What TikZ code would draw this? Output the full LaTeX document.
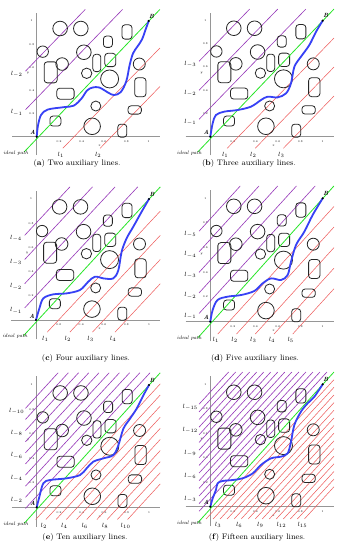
\documentclass[tikz,border=0pt]{standalone}
\definecolor{auxred}{RGB}{238,88,88}
\definecolor{auxpurple}{RGB}{150,55,185}
\definecolor{idealgreen}{RGB}{40,230,40}
\definecolor{pathblue}{RGB}{55,65,245}
\definecolor{axisgray}{RGB}{150,150,150}
\tikzset{
  obst/.style={draw=black!85, line width=0.8pt},
  axisline/.style={draw=axisgray},
  redline/.style={draw=auxred, line width=0.5pt},
  purpline/.style={draw=auxpurple, line width=0.6pt},
  ideal/.style={draw=idealgreen, line width=0.8pt},
  robot/.style={draw=pathblue, line width=1.8pt, line cap=round, line join=round},
  ticklab/.style={font=\fontsize{2.8}{3}\selectfont, inner sep=0},
  axlab/.style={font=\fontsize{3.5}{4}\selectfont\itshape, inner sep=0},
  linelab/.style={font=\fontsize{6}{7}\selectfont, inner sep=0},
  ptlab/.style={font=\fontsize{6}{7}\selectfont\bfseries\itshape, inner sep=0},
  idlab/.style={font=\fontsize{5}{6}\selectfont\itshape, inner sep=0},
  caplab/.style={font=\fontsize{8}{9}\selectfont, inner sep=0},
  endpt/.style={fill=black, draw=none},
}
% #1 number of lines, #2 label step, #3 path coordinates, #4 axis width
\newcommand\panelcontent[4]{%
  \draw[axisline, line width=#4] (-0.22,0) -- (1.1,0);
  \draw[axisline, line width=#4] (0,-0.16) -- (0,1.07);
  \foreach \t/\s in {0.2/0.2,0.4/0.4,0.6/0.6,0.8/0.8,1/1} {
    \path (\t,0) ++(0,-5pt) node[ticklab] (xt\s) {\s};
    \path (0,\t) ++(-5pt,0) node[ticklab] (yt\s) {\s};
  }
  \path (0.56,0) ++(0,-9pt) node[axlab] (xl) {x};
  \path (0,0.55) ++(-9pt,0) node[axlab] (yl) {y};
  \foreach \k in {1,...,#1} {
    \pgfmathsetmacro\auxc{\k/(#1+1)}
    \draw[redline] (\auxc-0.1,-0.1) -- (1.1,1.1-\auxc);
    \draw[purpline] (-0.1,\auxc-0.1) -- (1.1-\auxc,1.1);
    \pgfmathtruncatemacro\auxm{mod(\k,#2)}
    \ifnum\auxm=0
      \path (\auxc-0.1,0) ++(-2pt,-18.5pt) node[linelab] (lp\k) {$l_{\k}$};
      \path (0,\auxc-0.1) ++(-20pt,-3pt) node[linelab] (lm\k) {$l_{-\k}$};
    \fi
  }
  \foreach \cx/\cy/\r in {0.209/0.935/7.3, 0.394/0.935/7.3, 0.054/0.735/5.7,
      0.421/0.73/7.3, 0.227/0.628/6.3, 0.446/0.548/5.2, 0.651/0.499/9,
      0.916/0.628/6, 0.528/0.265/5, 0.495/0.09/8.3}
    \draw[obst] (\cx,\cy) circle[radius=\r pt];
  \foreach \cx/\cy/\w/\h in {0.806/0.905/10/14.3, 0.636/0.821/9/11.3,
      0.537/0.637/8/17.3, 0.657/0.663/11/13.3, 0.125/0.556/13/21,
      0.925/0.427/11.3/19, 0.257/0.372/17.3/11, 0.875/0.231/13.3/8.3,
      0.167/0.135/11/10, 0.764/0.052/9/13}
    \draw[obst, rounded corners=3pt, shift={(\cx,\cy)}]
      (-0.5*\w pt,-0.5*\h pt) rectangle (0.5*\w pt,0.5*\h pt);
  \coordinate (A) at (0,0);
  \coordinate (B) at (1,1);
  \coordinate (g0) at (-0.11,-0.13);
  \coordinate (g1) at (1.1,1.1);
  \draw[ideal] (g0) -- (g1);
  \draw[robot] plot[smooth, tension=0.55] coordinates {#3};
  \fill[endpt] (A) circle[radius=1.2pt];
  \fill[endpt] (B) circle[radius=1.2pt];
  \path (A) ++(-4pt,4pt) node[ptlab] (Alab) {A};
  \path (B) ++(3pt,5pt) node[ptlab] (Blab) {B};
  \path (A) ++(-21pt,-16.5pt) node[idlab] (idl) {ideal path};
}
\begin{document}
\begin{tikzpicture}[x=1pt,y=1pt]
\path[use as bounding box, fill=white] (0,0) rectangle (342,550);
% (a)
\begin{scope}[shift={(36.7pt,413.3pt)}, x=112pt, y=115.7pt, name prefix=pa-]
\panelcontent{2}{1}{(0,0) (0.012,0.1) (0.04,0.19) (0.1,0.235) (0.24,0.255) (0.33,0.268) (0.4,0.33) (0.45,0.4) (0.5,0.425) (0.56,0.425) (0.64,0.38) (0.69,0.36) (0.75,0.385) (0.8,0.48) (0.83,0.62) (0.86,0.72) (0.9,0.78) (0.94,0.84) (0.97,0.92) (1,1)}{0.6pt}
\end{scope}
% (b)
\begin{scope}[shift={(210.3pt,413.3pt)}, x=112.4pt, y=116pt, name prefix=pb-]
\panelcontent{3}{1}{(0,0) (0.021,0.115) (0.05,0.187) (0.125,0.216) (0.243,0.23) (0.362,0.259) (0.451,0.316) (0.51,0.345) (0.599,0.339) (0.674,0.374) (0.718,0.46) (0.748,0.603) (0.807,0.69) (0.881,0.79) (0.941,0.905) (1,1)}{0.6pt}
\end{scope}
% (c)
\begin{scope}[shift={(36pt,230pt)}, x=113pt, y=121pt, name prefix=pc-]
\panelcontent{4}{1}{(0,0) (0.03,0.096) (0.065,0.179) (0.153,0.212) (0.271,0.22) (0.389,0.248) (0.463,0.317) (0.522,0.358) (0.596,0.344) (0.684,0.344) (0.729,0.413) (0.758,0.565) (0.802,0.675) (0.861,0.771) (0.935,0.895) (1,1)}{0.6pt}
\end{scope}
% (d)
\begin{scope}[shift={(210.3pt,228.3pt)}, x=112.4pt, y=123.4pt, name prefix=pd-]
\panelcontent{5}{1}{(0,0) (0.021,0.095) (0.065,0.176) (0.154,0.203) (0.273,0.216) (0.392,0.249) (0.466,0.311) (0.54,0.351) (0.629,0.338) (0.688,0.378) (0.718,0.486) (0.763,0.622) (0.837,0.73) (0.911,0.865) (1,1)}{1.2pt}
\end{scope}
% (e)
\begin{scope}[shift={(36.7pt,42.7pt)}, x=112.3pt, y=122.3pt, name prefix=pe-]
\panelcontent{10}{2}{(0,0) (0.024,0.087) (0.059,0.196) (0.119,0.223) (0.267,0.237) (0.386,0.264) (0.445,0.319) (0.504,0.373) (0.593,0.4) (0.682,0.427) (0.727,0.507) (0.772,0.643) (0.831,0.725) (0.89,0.807) (0.95,0.916) (1,1)}{0.6pt}
\end{scope}
% (f)
\begin{scope}[shift={(210.3pt,43.3pt)}, x=112.4pt, y=122.4pt, name prefix=pf-]
\panelcontent{15}{3}{(0,0) (0.021,0.068) (0.05,0.136) (0.065,0.191) (0.11,0.21) (0.199,0.218) (0.288,0.232) (0.377,0.272) (0.451,0.341) (0.54,0.395) (0.629,0.409) (0.688,0.436) (0.718,0.531) (0.748,0.668) (0.807,0.777) (0.866,0.845) (0.926,0.899) (1,1)}{1.2pt}
\end{scope}
% captions
\node[caplab] (capa) at (77,386.7) {(\textbf{a}) Two auxiliary lines.};
\node[caplab] (capb) at (249,386.7) {(\textbf{b}) Three auxiliary lines.};
\node[caplab] (capc) at (86,191.7) {(\textbf{c}) Four auxiliary lines.};
\node[caplab] (capd) at (255,191.7) {(\textbf{d}) Five auxiliary lines.};
\node[caplab] (cape) at (85,12.3) {(\textbf{e}) Ten auxiliary lines.};
\node[caplab] (capf) at (257,12.3) {(\textbf{f}) Fifteen auxiliary lines.};
\end{tikzpicture}
\end{document}
